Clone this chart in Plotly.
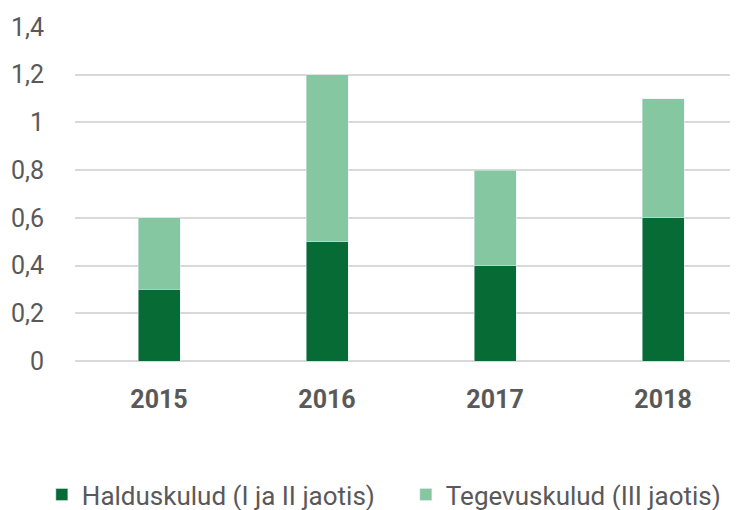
import plotly.graph_objects as go

aastad = ["2015", "2016", "2017", "2018"]
halduskulud = [0.3, 0.5, 0.4, 0.6]
tegevuskulud = [0.3, 0.7, 0.4, 0.5]
y_ticks = [0, 0.2, 0.4, 0.6, 0.8, 1.0, 1.2, 1.4]

font_fam = "Roboto, 'Liberation Sans', sans-serif"
gray = "#595959"

fig = go.Figure()
fig.add_trace(go.Bar(x=aastad, y=halduskulud, name="Halduskulud (I ja II jaotis)",
                     marker_color="#066B34", width=0.25, legend="legend"))
fig.add_trace(go.Bar(x=aastad, y=tegevuskulud, name="Tegevuskulud (III jaotis)",
                     marker_color="#85C7A1", width=0.25, legend="legend2"))

# legendid all, eraldi kaks tükki et saaks täpselt paigutada
leg = dict(orientation="h", xanchor="left", yanchor="middle", y=-0.40,
           font=dict(size=26, color=gray), bgcolor="rgba(0,0,0,0)")

# lehe body margin on 8px, seega figuur 730x502
fig.update_layout(
    barmode="stack",
    width=730, height=502,
    margin=dict(l=67, r=0, t=19, b=149, autoexpand=False),
    plot_bgcolor="white", paper_bgcolor="white",
    separators=",.",
    font=dict(family=font_fam, size=25, color=gray),
    showlegend=True,
    legend=dict(leg, x=-0.05),
    legend2=dict(leg, x=0.499),
)
fig.update_xaxes(range=[-0.5, 3.446], showgrid=False, showline=False, automargin=False,
                 tickfont=dict(size=25, color=gray, weight="bold"),
                 ticklabelstandoff=21)
fig.update_yaxes(range=[0, 1.4], tickvals=y_ticks, showgrid=True, gridcolor="#D9D9D9",
                 gridwidth=1.5, zeroline=True, zerolinecolor="#D9D9D9", zerolinewidth=1.5,
                 automargin=False, tickfont=dict(size=25, color=gray), ticklabelstandoff=30)

fig.write_html("out.html")
